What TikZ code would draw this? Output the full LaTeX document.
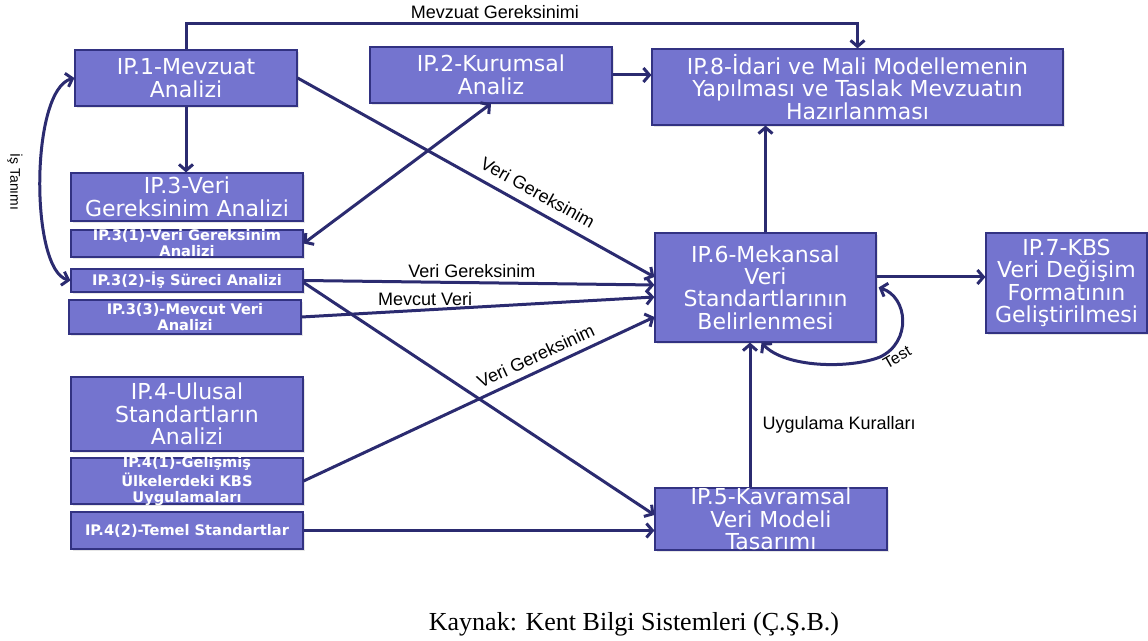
\documentclass[tikz,border=0pt]{standalone}
\usepackage{fontspec}
\setmainfont{DejaVu Sans}
\newfontfamily\labelfont{Liberation Sans}
\newfontfamily\captionfont{Liberation Serif}
\usetikzlibrary{arrows.meta, calc, shadows}
\definecolor{boxfill}{RGB}{116,116,207}
\definecolor{boxline}{RGB}{50,50,130}
\definecolor{arrowcol}{RGB}{43,43,112}

\begin{document}
\begin{tikzpicture}[x=0.5pt, y=-0.5pt,
    box/.style={draw=boxline, line width=0.6pt, fill=boxfill, text=white, align=center,
        inner xsep=0pt, inner ysep=-1pt, font=\fontsize{11}{11.2}\selectfont,
        drop shadow={opacity=0.2, shadow xshift=0.8pt, shadow yshift=-0.8pt}},
    subbox/.style={box, font=\bfseries\fontsize{7.3}{8}\selectfont},
    arr/.style={draw=arrowcol, line width=1.5pt, -{Straight Barb[length=3pt,width=7pt]}},
    arrs/.style={arr, {Straight Barb[length=3pt,width=7pt]}-{Straight Barb[length=3pt,width=7pt]}},
    lbl/.style={font=\labelfont\fontsize{9}{9}\selectfont, text=black, inner sep=1.5pt}]

    \useasboundingbox (0,0) rectangle (1148,641);

    % kutular
    \node[box, minimum width=111pt, minimum height=28pt] (ip1) at (186,78) {IP.1-Mevzuat\\Analizi};
    \node[box, minimum width=121pt, minimum height=28pt] (ip2) at (491,75) {IP.2-Kurumsal\\Analiz};
    \node[box, minimum width=205.5pt, minimum height=38pt] (ip8) at (857.5,87) {IP.8-İdari ve Mali Modellemenin\\Yapılması ve Taslak Mevzuatın\\Hazırlanması};
    \node[box, minimum width=116pt, minimum height=24pt] (ip3) at (187,197) {IP.3-Veri\\Gereksinim Analizi};
    \node[subbox, minimum width=116pt, minimum height=13.5pt] (ip31) at (187,243.5) {IP.3(1)-Veri Gereksinim\\Analizi};
    \node[subbox, minimum width=116pt, minimum height=11.5pt] (ip32) at (187,280.5) {IP.3(2)-İş Süreci Analizi};
    \node[subbox, minimum width=116pt, minimum height=17pt] (ip33) at (185,317) {IP.3(3)-Mevcut Veri\\Analizi};
    \node[box, minimum width=116pt, minimum height=37pt] (ip4) at (187,414) {IP.4-Ulusal\\Standartların\\Analizi};
    \node[subbox, minimum width=116pt, minimum height=23pt] (ip41) at (187,481) {IP.4(1)-Gelişmiş\\Ülkelerdeki KBS\\Uygulamaları};
    \node[subbox, minimum width=116pt, minimum height=18.5pt] (ip42) at (187,530.5) {IP.4(2)-Temel Standartlar};
    \node[box, minimum width=110.5pt, minimum height=54.5pt] (ip6) at (765.5,287.5) {IP.6-Mekansal\\Veri\\Standartlarının\\Belirlenmesi};
    \node[box, minimum width=80.5pt, minimum height=50pt] (ip7) at (1066.5,283) {IP.7-KBS\\Veri Değişim\\Formatının\\Geliştirilmesi};
    \node[box, minimum width=116pt, minimum height=31pt] (ip5) at (771,519) {IP.5-Kavramsal\\Veri Modeli\\Tasarımı};

    % oklar
    \draw[arr] (ip1.north) -- ++(0,-26) -| (ip8.north) node[lbl, pos=0.23, above]{Mevzuat Gereksinimi};
    \draw[arr] (ip1.south) -- (ip1.south |- ip3.north);
    \draw[arr] (ip2.east) -- (ip2.east -| ip8.west);
    \draw[arr] (ip1.east) -- ($(ip6.west)+(0,-10.5)$) node[lbl, pos=0.65, sloped, above=3pt]{Veri Gereksinim};
    \draw[arrs] (ip31.east) -- (ip2.south);
    \draw[arr] (ip32.east) -- ($(ip6.west)+(0,-2.5)$) node[lbl, pos=0.48, above]{Veri Gereksinim};
    \draw[arr] (ip33.east) -- ($(ip6.west)+(0,9.5)$) node[lbl, pos=0.35, above]{Mevcut Veri};
    \draw[arr] ($(ip32.east)+(0,2)$) -- ($(ip5.west)+(0,-4)$);
    \draw[arr] (ip41.east) -- ($(ip6.west)+(0,29.5)$) node[lbl, pos=0.68, sloped, above=2pt]{Veri Gereksinim};
    \draw[arr] (ip42.east) -- (ip42.east -| ip5.west);
    \coordinate (k5) at ($(ip5.north)+(-21,0)$);
    \draw[arr] (k5) -- (k5 |- ip6.south) node[lbl, pos=0.43, right=4pt]{Uygulama Kuralları};
    \draw[arr] (ip6.north) -- (ip6.north |- ip8.south);
    \draw[arr] ($(ip6.east)+(0,-10.5)$) -- ($(ip7.west)+(0,-6)$);
    \draw[arrs] ($(ip6.east)+(2,0)$) .. controls (908,297) and (912,342) .. (880,357)
        .. controls (850,369) and (785,368) .. ($(ip6.south)+(-4,0)$);
    \node[lbl, font=\labelfont\fontsize{8}{8}\selectfont, rotate=30] (test) at (897,357) {Test};
    \draw[arrs] (ip32.west) .. controls (30,270) and (30,90) .. (ip1.west);
    \node[lbl, font=\labelfont\fontsize{7}{7}\selectfont, rotate=-90] (istanimi) at (15,182) {İş Tanımı};

    \node[font=\captionfont\fontsize{13}{13}\selectfont] (kaynak) at (634,624) {Kaynak: Kent Bilgi Sistemleri (Ç.Ş.B.)};
\end{tikzpicture}
\end{document}
